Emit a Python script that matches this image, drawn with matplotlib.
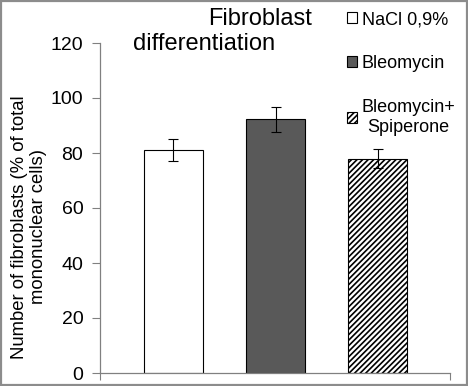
import numpy as np
import matplotlib
matplotlib.use("Agg")
import matplotlib.pyplot as plt
from matplotlib.patches import Rectangle

plt.rcParams['font.family'] = ['Liberation Sans', 'DejaVu Sans']
plt.rcParams['hatch.linewidth'] = 1.2

groups = ["NaCl 0,9%", "Bleomycin", "Bleomycin+\nSpiperone"]
values = [81, 92.3, 78]
errors = [4, 4.5, 3.5]
colors = ["white", "#595959", "white"]
hatches = [None, None, "//////"]

fig = plt.figure(figsize=(4.68, 3.86), dpi=100)
ax = fig.add_axes([100 / 468, 1 - 373 / 386, 350 / 468, 330 / 386])

x = np.arange(len(groups))
for i in range(len(groups)):
    ax.bar(x[i], values[i], width=0.58, color=colors[i], edgecolor="black",
           linewidth=0.8, hatch=hatches[i], label=groups[i], zorder=2)
ax.errorbar(x, values, yerr=errors, fmt="none", ecolor="black",
            elinewidth=0.8, capsize=3.5, capthick=0.8, zorder=3)

ax.set_xlim(-0.72, 2.71)
ax.set_ylim(0, 120)
ax.set_yticks(range(0, 121, 20))
ax.set_xticks([-0.72, 2.71])
ax.set_xticklabels([])
ax.tick_params(axis="x", direction="out", length=5, color="#808080")
ax.tick_params(axis="y", direction="out", length=6, color="#808080",
               labelsize=14, pad=6)
for s in ["top", "right"]:
    ax.spines[s].set_visible(False)
for s in ["left", "bottom"]:
    ax.spines[s].set_color("#808080")
    ax.spines[s].set_linewidth(0.9)

fig.text(29 / 468, 1 - 227 / 386, "Number of fibroblasts (% of total\nmononuclear cells)",
         rotation=90, ha="center", va="center", multialignment="center",
         fontsize=13.3, linespacing=1.1)

fig.text(208 / 468, 1 - 19 / 386, "Fibroblast", ha="left", va="center", fontsize=17)
fig.text(133 / 468, 1 - 44 / 386, "differentiation", ha="left", va="center", fontsize=17)

leg = fig.legend(loc="upper left", bbox_to_anchor=(340 / 468, 1 - 4 / 386),
                 frameon=False, fontsize=13, handlelength=0.55, handleheight=0.55,
                 handletextpad=0.25, labelspacing=1.5, borderaxespad=0)
for t in leg.get_texts():
    t.set_multialignment("center")

fig.patches.append(Rectangle((0.002, 0.003), 0.995, 0.994, transform=fig.transFigure,
                             fill=False, edgecolor="#8c8c8c", linewidth=1.6))

fig.savefig("out.png", dpi=100)
